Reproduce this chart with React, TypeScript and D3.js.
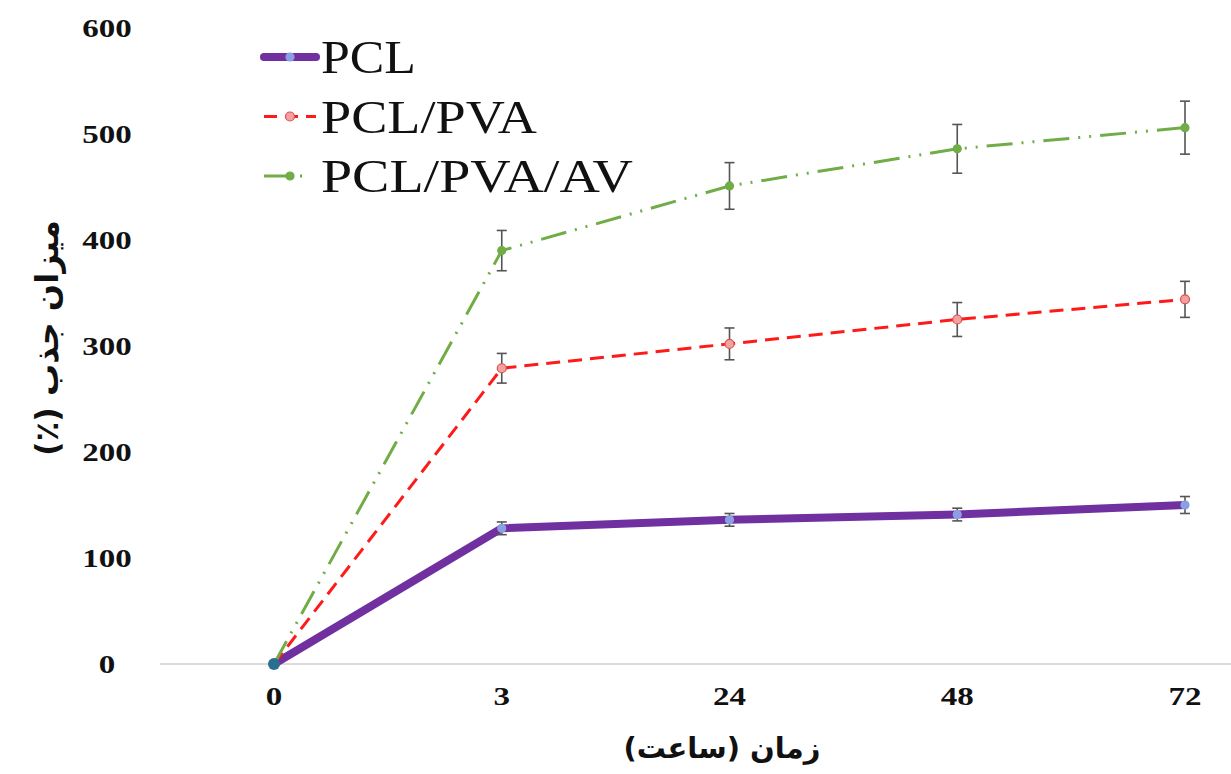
import React from "react";
import { scalePoint, scaleLinear, line } from "d3";

// x categories (hours)
const hours = ["0", "3", "24", "48", "72"];
const yTicks = [0, 100, 200, 300, 400, 500, 600];

// absorption (%) values
const pcl = [0, 128, 136, 141, 150];
const pclErr = [0, 6, 6, 6, 8];
const pclPva = [0, 279, 302, 325, 344];
const pclPvaErr = [0, 14, 15, 16, 17];
const pclPvaAv = [0, 390, 451, 486, 506];
const pclPvaAvErr = [0, 19, 22, 23, 25];

const seriesNames = ["PCL", "PCL/PVA", "PCL/PVA/AV"];

const W = 1231;
const H = 774;

const series = [
  { name: seriesNames[0], values: pcl, errs: pclErr, color: "#7030A0", width: 8, dash: "none", mFill: "#8C9FE3", mStroke: "#8C9FE3", r: 4 },
  { name: seriesNames[1], values: pclPva, errs: pclPvaErr, color: "#FF1A1A", width: 3, dash: "14 8", mFill: "#F2A0A0", mStroke: "#D9534F", r: 4.5 },
  { name: seriesNames[2], values: pclPvaAv, errs: pclPvaAvErr, color: "#70AD47", width: 3, dash: "26 9 2 9 2 9", mFill: "#70AD47", mStroke: "#70AD47", r: 4 },
];

const App = () => {
  const x = scalePoint<string>().domain(hours).range([274, 1185]);
  const y = scaleLinear().domain([0, 600]).range([664, 28]);

  const lineGen = line<number>()
    .x((d, i) => x(hours[i]) as number)
    .y((d) => y(d));

  const serif = "'Liberation Serif', 'Times New Roman', serif";

  return (
    <svg width={W} height={H} style={{ position: "absolute", left: 0, top: 0, background: "#fff" }}>
      {/* x axis line */}
      <line x1={160} x2={W} y1={y(0)} y2={y(0)} stroke="#d0d0d0" strokeWidth={1.5} />

      {/* y tick labels */}
      {yTicks.map((t) => (
        <text
          key={t}
          transform={`translate(107,${y(t) + 9}) scale(1.27,1)`}
          textAnchor="middle"
          fontFamily={serif}
          fontWeight="bold"
          fontSize={26}
          fill="#111"
        >
          {t}
        </text>
      ))}

      {/* x tick labels */}
      {hours.map((h) => (
        <text
          key={h}
          transform={`translate(${x(h)},${705}) scale(1.27,1)`}
          textAnchor="middle"
          fontFamily={serif}
          fontWeight="bold"
          fontSize={26}
          fill="#111"
        >
          {h}
        </text>
      ))}

      {/* series lines */}
      {series.map((s) => (
        <path
          key={s.name}
          d={lineGen(s.values) || ""}
          fill="none"
          stroke={s.color}
          strokeWidth={s.width}
          strokeDasharray={s.dash}
          strokeLinecap={s.dash === "none" ? "round" : "butt"}
        />
      ))}

      {/* error bars */}
      {series.map((s) =>
        s.values.map((v, i) =>
          s.errs[i] > 0 ? (
            <g key={s.name + i} stroke="#555" strokeWidth={1.6}>
              <line x1={x(hours[i])} x2={x(hours[i])} y1={y(v - s.errs[i])} y2={y(v + s.errs[i])} />
              <line x1={(x(hours[i]) as number) - 5} x2={(x(hours[i]) as number) + 5} y1={y(v - s.errs[i])} y2={y(v - s.errs[i])} />
              <line x1={(x(hours[i]) as number) - 5} x2={(x(hours[i]) as number) + 5} y1={y(v + s.errs[i])} y2={y(v + s.errs[i])} />
            </g>
          ) : null
        )
      )}

      {/* markers */}
      {series.map((s) =>
        s.values.map((v, i) => (
          <circle
            key={s.name + "m" + i}
            cx={x(hours[i])}
            cy={y(v)}
            r={s.r}
            fill={s.mFill}
            stroke={s.mStroke}
            strokeWidth={1.2}
          />
        ))
      )}
      <circle cx={x("0")} cy={y(0)} r={6} fill="#2A6F8F" />

      {/* legend */}
      {series.map((s, i) => {
        const ly = 57 + i * 59.5;
        return (
          <g key={s.name + "leg"}>
            <line
              x1={264}
              x2={316}
              y1={ly}
              y2={ly}
              stroke={s.color}
              strokeWidth={s.width}
              strokeDasharray={s.dash === "none" ? "none" : i === 1 ? "13 8" : "30 6 2"}
              strokeLinecap={s.dash === "none" ? "round" : "butt"}
            />
            <circle cx={290} cy={ly} r={s.r} fill={s.mFill} stroke={s.mStroke} strokeWidth={1.2} />
            <text
              x={321}
              y={ly + 16}
              fontFamily={serif}
              fontSize={47}
              fill="#111"
              textLength={[95, 216, 312][i]}
              lengthAdjust="spacingAndGlyphs"
            >
              {s.name}
            </text>
          </g>
        );
      })}

      {/* axis titles */}
      <text
        transform="translate(58,338) rotate(-90)"
        textAnchor="middle"
        fontFamily="'DejaVu Sans', sans-serif"
        fontWeight="bold"
        fontSize={32}
        fill="#111"
        direction="rtl"
      >
        میزان جذب (٪)
      </text>
      <text
        x={722}
        y={758}
        textAnchor="middle"
        fontFamily="'DejaVu Sans', sans-serif"
        fontWeight="bold"
        fontSize={29}
        fill="#111"
        direction="rtl"
      >
        زمان (ساعت)
      </text>
    </svg>
  );
};

export default App;
